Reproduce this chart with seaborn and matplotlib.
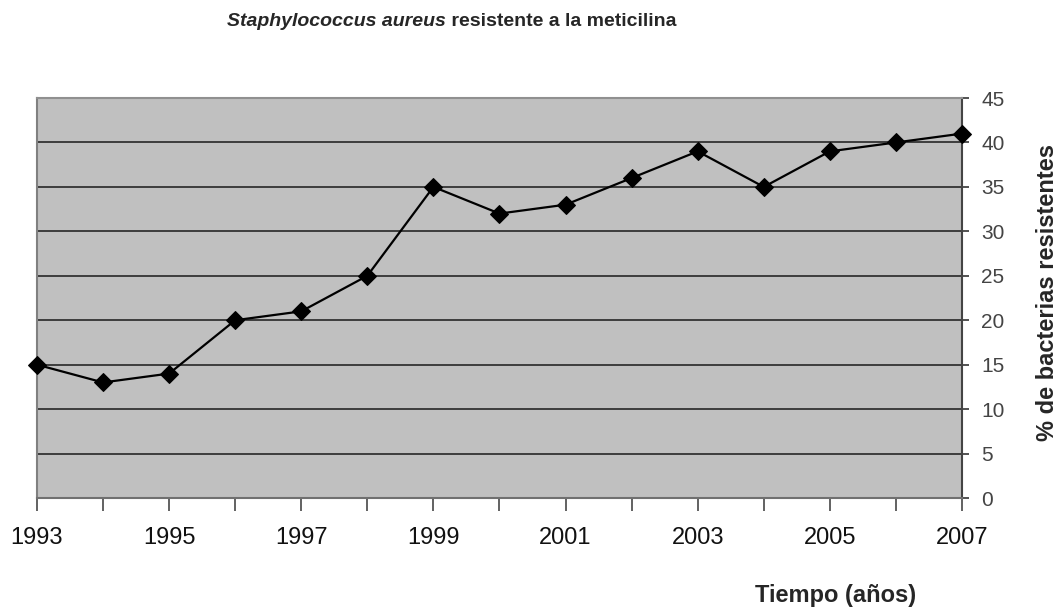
import matplotlib.pyplot as plt
import seaborn as sns
import pandas as pd

years = [1993, 1994, 1995, 1996, 1997, 1998, 1999, 2000, 2001, 2002, 2003, 2004, 2005, 2006, 2007]
resistant_pct = [15, 13, 14, 20, 21, 25, 35, 32, 33, 36, 39, 35, 39, 40, 41]
year_labels = [1993, 1995, 1997, 1999, 2001, 2003, 2005, 2007]
y_ticks = [0, 5, 10, 15, 20, 25, 30, 35, 40, 45]

sns.set_style("white")
plt.rcParams['font.family'] = ['Liberation Sans', 'DejaVu Sans']

df = pd.DataFrame({"year": years, "pct": resistant_pct})

fig = plt.figure(figsize=(10.59, 6.10), dpi=100)
ax = fig.add_axes([0.0349, 0.1836, 0.8735, 0.6557])
ax.set_facecolor("#c0c0c0")

sns.lineplot(data=df, x="year", y="pct", ax=ax, color="black", linewidth=1.6,
             marker="D", markersize=9, markeredgecolor="black", markerfacecolor="black",
             clip_on=False, zorder=5)

ax.set_xlim(1993, 2007)
ax.set_ylim(0, 45)
ax.set_xticks(years)
ax.set_xticklabels([str(y) if y in year_labels else "" for y in years], fontsize=17, color="#111111")
ax.set_yticks(y_ticks)
ax.set_yticklabels([str(v) for v in y_ticks], fontsize=15, color="#444444")
ax.yaxis.tick_right()
ax.tick_params(axis="x", direction="out", length=9, width=1.3, color="#555555", pad=12, bottom=True)
ax.tick_params(axis="y", direction="out", length=5, width=1.3, color="#444444", pad=9,
               left=False, right=True)

for y in y_ticks[1:-1]:
    ax.axhline(y, color="#333333", linewidth=1.3, zorder=1)

ax.spines["left"].set_color("#808080")
ax.spines["top"].set_color("#909090")
ax.spines["bottom"].set_color("#707070")
ax.spines["right"].set_color("#444444")
for side in ["left", "bottom", "right", "top"]:
    ax.spines[side].set_visible(True)
    ax.spines[side].set_linewidth(1.5)

ax.set_xlabel("")
ax.set_ylabel("")

fig.text(0.9887, 0.5213, "% de bacterias resistentes", fontsize=17, fontweight="bold",
         rotation=90, ha="center", va="center")
fig.text(0.789, 0.023, "Tiempo (años)", fontsize=17, fontweight="bold", ha="center", va="center")

t1 = fig.text(0.2144, 0.958, "Staphylococcus aureus", fontsize=14, fontweight="bold",
              fontstyle="italic", ha="left", va="baseline")
ax.annotate(" resistente a la meticilina", xy=(1, 0), xycoords=t1, fontsize=14,
            fontweight="bold", ha="left", va="bottom", annotation_clip=False)

fig.savefig("out.png", dpi=100)
